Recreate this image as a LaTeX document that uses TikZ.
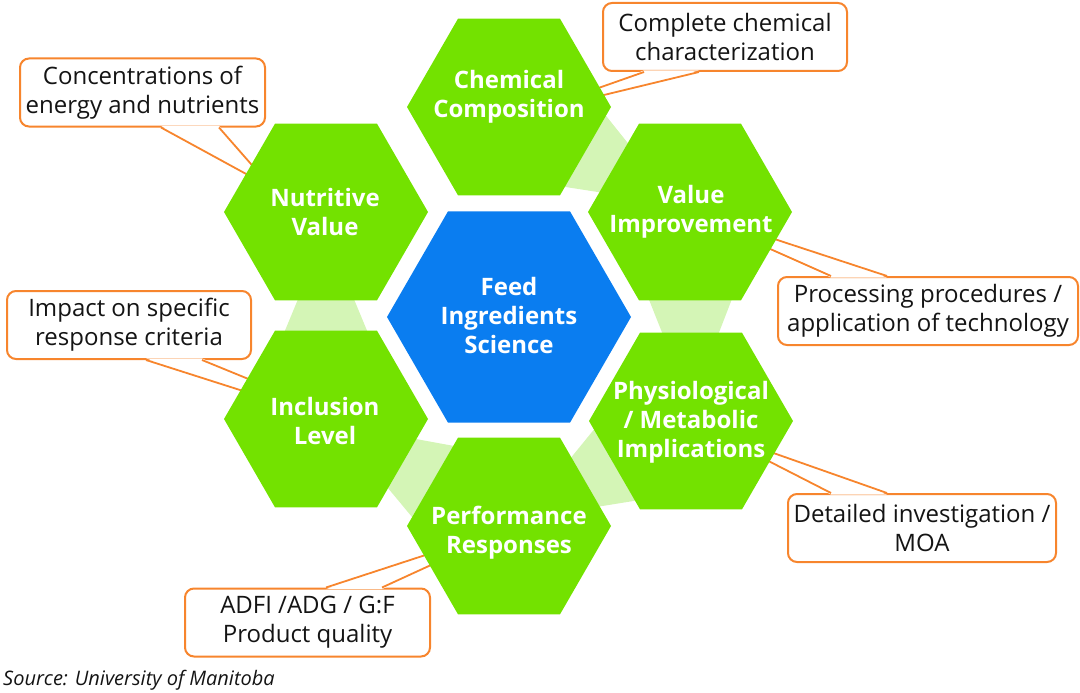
\documentclass[tikz,border=0pt]{standalone}
\usepackage{fontspec}
\setmainfont{Open Sans}
\usetikzlibrary{shapes.geometric,calc}
\definecolor{hexgreen}{RGB}{115,226,0}
\definecolor{linkgreen}{RGB}{212,245,182}
\definecolor{hexblue}{RGB}{10,125,240}
\definecolor{callorange}{RGB}{247,133,45}
\definecolor{txtdark}{RGB}{20,20,20}
\begin{document}
\begin{tikzpicture}[x=1pt,y=-1pt,
  hexg/.style={regular polygon, regular polygon sides=6, minimum size=204pt, inner sep=0pt, outer sep=0pt, fill=hexgreen, draw=none},
  hexb/.style={regular polygon, regular polygon sides=6, minimum size=244pt, inner sep=0pt, outer sep=0pt, fill=hexblue, draw=none},
  hexlabel/.style={text=white, font=\fontsize{24}{29}\selectfont\bfseries, align=center, inner sep=0pt},
  cbox/.style={draw=callorange, line width=2pt, fill=white, rounded corners=9pt, minimum height=68pt, inner sep=0pt, align=center, text=txtdark, font=\fontsize{24}{29}\selectfont},
  tailline/.style={draw=callorange, line width=1.8pt},
  link/.style={fill=linkgreen}]
\useasboundingbox (0,0) rectangle (1080,693);

% hexagon positions (shapes drawn later)
\path (509,317) coordinate (pc)
      (509,107) coordinate (pchem)
      (690,212) coordinate (pvalue)
      (691,421) coordinate (pphys)
      (509,526) coordinate (pperf)
      (326,419) coordinate (pincl)
      (326,212) coordinate (pnutr);

% light green links (wide at source, narrow at target)
\foreach \s/\t in {pchem/pvalue, pvalue/pphys, pphys/pperf, pperf/pincl, pincl/pnutr}{
  \fill[link] ($(\s)!86pt!(\t)!42pt!90:(\t)$) -- ($(\s)!86pt!(\t)!42pt!-90:(\t)$)
           -- ($(\t)!86pt!(\s)!27.5pt!90:(\s)$) -- ($(\t)!86pt!(\s)!27.5pt!-90:(\s)$) -- cycle;
}

% callout boxes
\node[cbox, minimum width=244pt] (cb1) at (725,37) {Complete chemical\\characterization};
\node[cbox, minimum width=245pt] (cb2) at (142.5,92.5) {Concentrations of\\energy and nutrients};
\node[cbox, minimum width=244pt] (cb3) at (129,325) {Impact on specific\\response criteria};
\node[cbox, minimum width=300pt] (cb4) at (928,311) {Processing procedures /\\application of technology};
\node[cbox, minimum width=268pt] (cb5) at (922,528) {Detailed investigation /\\MOA};
\node[cbox, minimum width=245pt] (cb6) at (307.5,622.5) {ADFI /ADG / G:F\\Product quality};

% tail base points and tips
\coordinate (b1a) at ($(cb1.south west)+(42,0)$);
\coordinate (b1b) at ($(cb1.south west)+(97,0)$);
\coordinate (t1a) at (570,98);
\coordinate (t1b) at (575,102);
\coordinate (b2a) at ($(cb2.south west)+(142,0)$);
\coordinate (b2b) at ($(cb2.south west)+(200,0)$);
\coordinate (t2a) at (270,187);
\coordinate (t2b) at (265,180);
\coordinate (b3a) at ($(cb3.south west)+(140,0)$);
\coordinate (b3b) at ($(cb3.south west)+(196,0)$);
\coordinate (t3a) at (265,398);
\coordinate (t3b) at (268,387);
\coordinate (b4a) at ($(cb4.north west)+(54,0)$);
\coordinate (b4b) at ($(cb4.north west)+(110,0)$);
\coordinate (t4a) at (750,240);
\coordinate (t4b) at (750,231);
\coordinate (b5a) at ($(cb5.north west)+(44,0)$);
\coordinate (b5b) at ($(cb5.north west)+(100,0)$);
\coordinate (t5a) at (745,449);
\coordinate (t5b) at (745,443);
\coordinate (b6a) at ($(cb6.north west)+(142,0)$);
\coordinate (b6b) at ($(cb6.north west)+(198,0)$);
\coordinate (t6a) at (450,547);
\coordinate (t6b) at (455,554);

% tails: white fill covering the box border, then two orange lines
\fill[white] ($(b1a)+(0,-1.6)$) -- ($(b1b)+(0,-1.6)$) -- (t1b) -- (t1a) -- cycle;
\fill[white] ($(b2a)+(0,-1.6)$) -- ($(b2b)+(0,-1.6)$) -- (t2b) -- (t2a) -- cycle;
\fill[white] ($(b3a)+(0,-1.6)$) -- ($(b3b)+(0,-1.6)$) -- (t3b) -- (t3a) -- cycle;
\fill[white] ($(b4a)+(0,1.6)$) -- ($(b4b)+(0,1.6)$) -- (t4b) -- (t4a) -- cycle;
\fill[white] ($(b5a)+(0,1.6)$) -- ($(b5b)+(0,1.6)$) -- (t5b) -- (t5a) -- cycle;
\fill[white] ($(b6a)+(0,1.6)$) -- ($(b6b)+(0,1.6)$) -- (t6b) -- (t6a) -- cycle;
\draw[tailline] (b1a) -- (t1a) (b1b) -- (t1b);
\draw[tailline] (b2a) -- (t2a) (b2b) -- (t2b);
\draw[tailline] (b3a) -- (t3a) (b3b) -- (t3b);
\draw[tailline] (b4a) -- (t4a) (b4b) -- (t4b);
\draw[tailline] (b5a) -- (t5a) (b5b) -- (t5b);
\draw[tailline] (b6a) -- (t6a) (b6b) -- (t6b);

% hexagons
\node[hexb] (center) at (pc) {};
\node[hexg] (chem) at (pchem) {};
\node[hexg] (value) at (pvalue) {};
\node[hexg] (phys) at (pphys) {};
\node[hexg] (perf) at (pperf) {};
\node[hexg] (incl) at (pincl) {};
\node[hexg] (nutr) at (pnutr) {};

% labels
\node[hexlabel] (lcenter) at (509,315) {Feed\\Ingredients\\Science};
\node[hexlabel] (lchem) at (509,97) {Chemical\\Composition};
\node[hexlabel] (lvalue) at (691,211.5) {Value\\Improvement};
\node[hexlabel] (lphys) at (691,422) {Physiological\\/ Metabolic\\Implications};
\node[hexlabel] (lperf) at (509,533) {Performance\\Responses};
\node[hexlabel] (lincl) at (325,420.5) {Inclusion\\Level};
\node[hexlabel] (lnutr) at (325,211.5) {Nutritive\\Value};

% source
\node[anchor=west, inner sep=0pt, text=txtdark, font=\fontsize{20}{22}\selectfont\itshape] (src) at (3,680) {Source: University of Manitoba};
\end{tikzpicture}
\end{document}
